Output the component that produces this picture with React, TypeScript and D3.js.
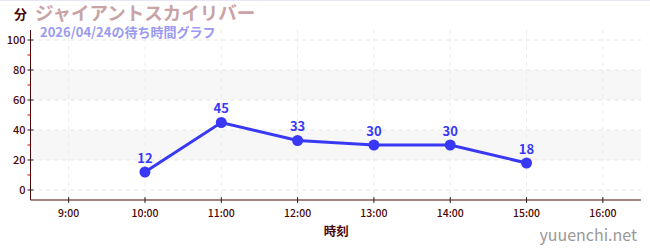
import React from "react";
import * as d3 from "d3";

const times = [10, 11, 12, 13, 14, 15];
const waits = [12, 45, 33, 30, 30, 18];
const xTicks = [9, 10, 11, 12, 13, 14, 15, 16];
const yTicks = [0, 20, 40, 60, 80, 100];
const yMinor = [10, 30, 50, 70, 90];
const bands: [number, number][] = [[20, 40], [60, 80]];
const title = "ジャイアントスカイリバー";
const subtitle = "2026/04/24の待ち時間グラフ";
const yUnit = "分";
const xTitle = "時刻";
const watermark = "yuuenchi.net";

export default function App() {
  const W = 650, H = 250;
  const left = 30.5, right = 641, top = 30, bottom = 200;
  const x = d3.scaleLinear().domain([8.5, 16.5]).range([left, right]);
  const y = d3.scaleLinear().domain([-6.67, 106.67]).range([bottom, top]);
  const line = d3.line<number>().x((_, i) => x(times[i])).y((d) => y(d));
  const font = "'Noto Sans CJK JP', 'Noto Sans', sans-serif";
  const axisColor = "#4a0808";
  const blue = "#3838f5";
  return (
    <svg width={W} height={H} style={{ position: "absolute", left: 0, top: 0, fontFamily: font }}>
      <rect x={0} y={0} width={W} height={H} fill="#fff" />
      <line x1={0} x2={W} y1={0.5} y2={0.5} stroke="#e6e6f5" />
      {bands.map(([a, b], i) => (
        <rect key={i} x={left} width={right - left} y={y(b)} height={y(a) - y(b)} fill="#f7f7f7" />
      ))}
      {yTicks.map((t) => (
        <line key={"gy" + t} x1={left} x2={right} y1={y(t)} y2={y(t)} stroke="#e6e6e6" strokeDasharray="4,4" />
      ))}
      {xTicks.map((t) => (
        <line key={"gx" + t} x1={x(t)} x2={x(t)} y1={top} y2={bottom} stroke="#ececec" strokeDasharray="4,4" />
      ))}
      <line x1={left} x2={left} y1={top} y2={bottom} stroke={axisColor} strokeWidth={1} />
      <line x1={left} x2={right} y1={bottom} y2={bottom} stroke={axisColor} strokeWidth={1.2} />
      {yTicks.map((t) => (
        <g key={"yt" + t}>
          <line x1={left - 3} x2={left + 3} y1={y(t)} y2={y(t)} stroke="#222" />
          <text x={left - 5} y={y(t)} dy="0.35em" textAnchor="end" fontSize={11} fontWeight={500} fill={axisColor}>{t}</text>
        </g>
      ))}
      {yMinor.map((t) => (
        <line key={"ym" + t} x1={left - 3} x2={left} y1={y(t)} y2={y(t)} stroke="#d00" />
      ))}
      {xTicks.map((t) => (
        <g key={"xt" + t}>
          <line x1={x(t)} x2={x(t)} y1={bottom - 3} y2={bottom + 3} stroke="#222" />
          <text x={x(t)} y={bottom + 13} dy="0.35em" textAnchor="middle" fontSize={10.5} fontWeight={500} fill={axisColor}>{`${t}:00`}</text>
        </g>
      ))}
      <text x={(left + right) / 2 + 0.5} y={232} dy="0.35em" textAnchor="middle" fontSize={12.5} fontWeight="bold" fill={axisColor}>{xTitle}</text>
      <text x={14} y={14} dy="0.35em" fontSize={13} fontWeight="bold" fill={axisColor}>{yUnit}</text>
      <text x={35} y={14} dy="0.35em" fontSize={18.5} fontWeight="bold" fill="#c9a3a6">{title}</text>
      <text x={40} y={32} dy="0.35em" fontSize={13} fontWeight="bold" fill="#9a9af0">{subtitle}</text>
      <text x={637} y={235} dy="0.35em" textAnchor="end" fontSize={16} fill="#999">{watermark}</text>
      <path d={line(waits) || ""} fill="none" stroke={blue} strokeWidth={3} />
      {waits.map((v, i) => (
        <g key={"p" + i}>
          <circle cx={x(times[i])} cy={y(v)} r={5.5} fill={blue} />
          <text x={x(times[i])} y={y(v) - 14} dy="0.35em" textAnchor="middle" fontSize={13} fontWeight="bold" fill={blue}>{v}</text>
        </g>
      ))}
    </svg>
  );
}
